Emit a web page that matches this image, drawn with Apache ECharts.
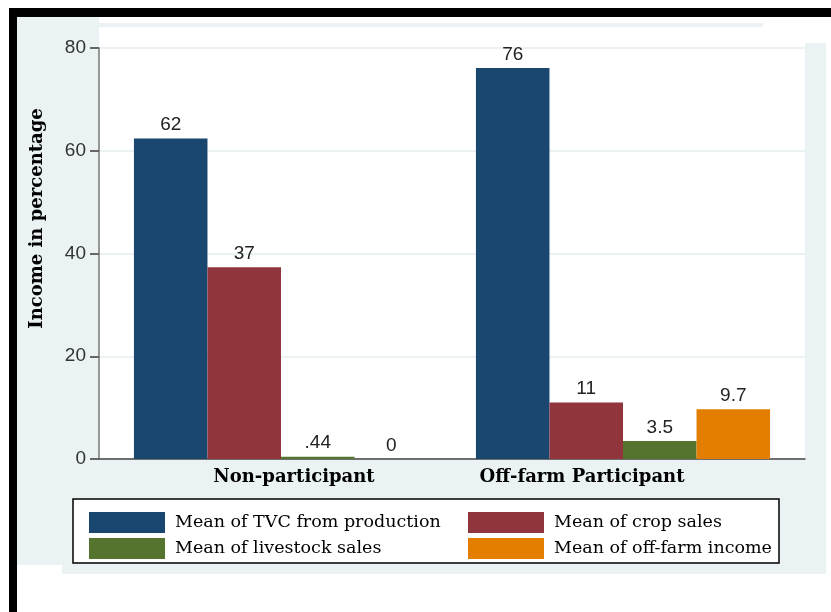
<!DOCTYPE html>
<html>
<head>
<meta charset="utf-8">
<script src="https://cdn.jsdelivr.net/npm/echarts@6/dist/echarts.min.js"></script>
<style>html,body{margin:0;padding:0;background:#fff;}#c{width:831px;height:612px;}</style>
</head>
<body>
<div id="c"></div>
<script>
const categories = ['Non-participant', 'Off-farm Participant'];
const seriesNames = ['Mean of TVC from production', 'Mean of crop sales', 'Mean of livestock sales', 'Mean of off-farm income'];
const tvc = [62.4, 76.1];
const crop = [37.3, 11];
const livestock = [0.44, 3.5];
const offfarm = [0, 9.7];
const colors = ['#1a476f', '#90353b', '#55752f', '#e37e00'];
const yMin = 0, yMax = 80, yStep = 20;
const yTitle = 'Income in percentage';

const BG = '#eaf2f3';
function fmt(v) {
  let s = String(parseFloat(Number(v).toPrecision(2)));
  if (s.startsWith('0.')) s = s.slice(1);
  return s;
}
const chart = echarts.init(document.getElementById('c'), null, {renderer: 'canvas'});
const seriesData = [tvc, crop, livestock, offfarm];
const option = {
  animation: false,
  backgroundColor: '#fff',
  graphic: [
    {type: 'rect', shape: {x: 17, y: 17, width: 82, height: 548}, style: {fill: BG}, z: -10},
    {type: 'rect', shape: {x: 62, y: 459, width: 764, height: 115}, style: {fill: BG}, z: -10},
    {type: 'rect', shape: {x: 805, y: 43, width: 21, height: 420}, style: {fill: BG}, z: -10},
    {type: 'rect', shape: {x: 99, y: 23, width: 664, height: 4}, style: {fill: BG}, z: -10},
    {type: 'rect', shape: {x: 9, y: 8, width: 822, height: 9}, style: {fill: '#000'}, z: 10},
    {type: 'rect', shape: {x: 9, y: 8, width: 8, height: 604}, style: {fill: '#000'}, z: 10},
    {type: 'rect', shape: {x: 73, y: 499, width: 706, height: 64}, style: {fill: '#fff', stroke: '#000', lineWidth: 1.5}, z: -5}
  ],
  grid: [
    {left: 99, right: 26, top: 48, bottom: 153},
    {left: 110, right: 37, top: 48, bottom: 153}
  ],
  xAxis: [
    {gridIndex: 0, type: 'value', min: 0, max: 1, axisLine: {show: true, onZero: false, lineStyle: {color: '#444', width: 1.5}},
     axisTick: {show: false}, axisLabel: {show: false}, splitLine: {show: false}},
    {gridIndex: 1, type: 'category', data: categories, axisLine: {show: false}, axisTick: {show: false},
     axisLabel: {margin: 9, color: '#000',
       formatter: function (v, i) { return i === 0 ? '{a|' + v + '}' : '{b|' + v + '}'; },
       rich: {
         a: {fontFamily: 'DejaVu Serif', fontWeight: 'bold', fontSize: 18, color: '#000', padding: [0, 0, 0, 26]},
         b: {fontFamily: 'DejaVu Serif', fontWeight: 'bold', fontSize: 18, color: '#000', padding: [0, 82, 0, 0]}
       }}}
  ],
  yAxis: [
    {gridIndex: 0, type: 'value', min: yMin, max: yMax, interval: yStep,
     name: yTitle, nameLocation: 'middle', nameGap: 53, nameRotate: 90,
     nameTextStyle: {fontFamily: 'DejaVu Serif', fontWeight: 'bold', fontSize: 18, color: '#000', padding: [0, 0, 0, 70]},
     axisLine: {show: true, lineStyle: {color: '#777', width: 1.5}},
     axisTick: {show: true, length: 9, lineStyle: {color: '#666', width: 2}},
     axisLabel: {margin: 13, fontFamily: 'Liberation Sans', fontSize: 19, color: '#333'},
     splitLine: {show: true, lineStyle: {color: BG, width: 2}}},
    {gridIndex: 1, type: 'value', min: yMin, max: yMax, interval: yStep, show: false, splitLine: {show: false}}
  ],
  legend: [
    {orient: 'vertical', left: 84, top: 507, itemWidth: 76, itemHeight: 21, itemGap: 5, icon: 'rect',
     data: [seriesNames[0], seriesNames[2]],
     textStyle: {fontFamily: 'DejaVu Serif', fontSize: 17.5, color: '#000', padding: [0, 0, 0, 5]}},
    {orient: 'vertical', left: 463, top: 507, itemWidth: 76, itemHeight: 21, itemGap: 5, icon: 'rect',
     data: [seriesNames[1], seriesNames[3]],
     textStyle: {fontFamily: 'DejaVu Serif', fontSize: 17.5, color: '#000', padding: [0, 0, 0, 5]}}
  ],
  series: seriesNames.map((n, i) => ({
    name: n, type: 'bar', xAxisIndex: 1, yAxisIndex: 1, data: seriesData[i],
    barGap: '0%', barCategoryGap: '14%',
    itemStyle: {color: colors[i]},
    label: {show: true, position: 'top', distance: 4, formatter: p => fmt(p.value),
            fontFamily: 'Liberation Sans', fontSize: 19, color: '#222'}
  }))
};
chart.setOption(option);
</script>
</body>
</html>
